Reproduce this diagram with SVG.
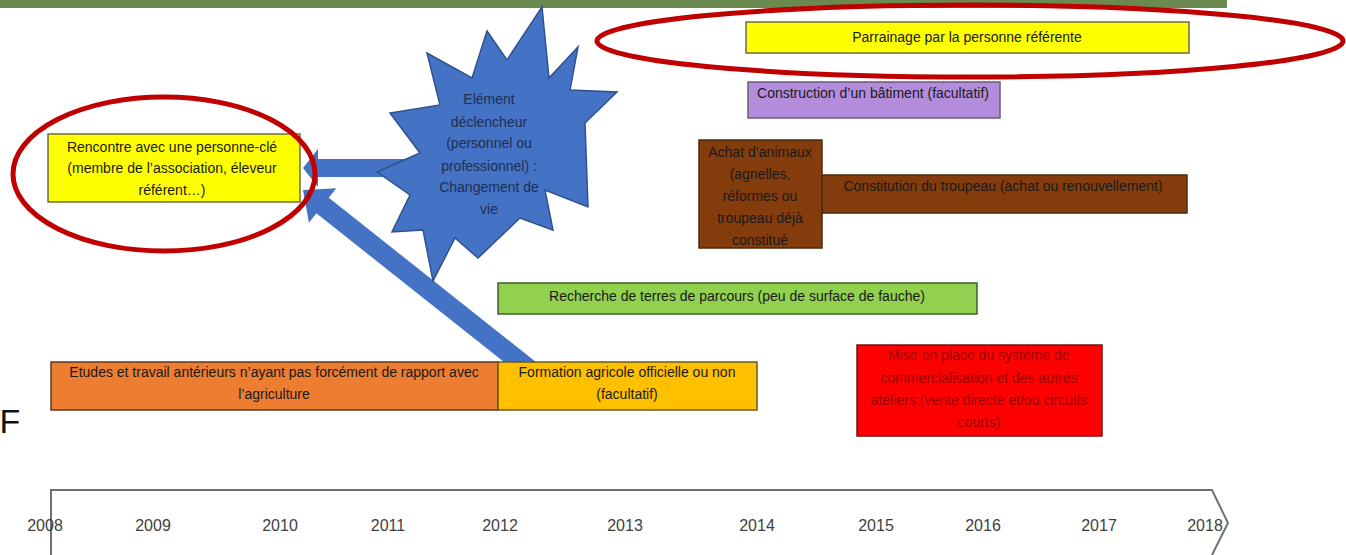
<svg xmlns="http://www.w3.org/2000/svg" width="1346" height="555" viewBox="0 0 1346 555">
<style>
text{font-family:"Liberation Sans",Arial,sans-serif;font-size:14px;fill:#1a1a1a;text-anchor:middle}
.box{stroke-width:1.5}
.yr{font-size:16px;fill:#404040}
.hl{fill:none;stroke:#c00000;stroke-width:5}
.blue{fill:#4472c4}
.st{fill:#1f3050}
.rt{fill:#9a0000}
</style>
<rect x="0" y="0" width="1227" height="8" fill="#6a8a4f"/>
<g id="connectors">
<polygon class="blue" points="303,168 318,149 318,159 425,159 425,177 318,177 318,187"/>
<polygon class="blue" points="303,190 336.3,188.3 328.8,197.7 536.2,362.2 523.8,377.8 316.4,213.3 308.9,222.7"/>
</g>
<g id="trigger">
<polygon fill="#4472c4" stroke="#2f528f" stroke-width="1.5" points="542,7 549,78 578,47 570,90 617,92 585,123 588,207 545,190 553,230 520,218 478,258 455,238 433,281 423,230 392,232 410,195 377,172 420,153 390,113 440,105 427,53 472,78 487,31 507,60"/>
<text class="st" x="489" y="104">Elément</text>
<text class="st" x="489" y="127">déclencheur</text>
<text class="st" x="489" y="148">(personnel ou</text>
<text class="st" x="489" y="171">professionnel) :</text>
<text class="st" x="489" y="192">Changement de</text>
<text class="st" x="489" y="214">vie</text>
</g>
<g id="rencontre">
<rect class="box" x="48" y="134" width="252" height="68" fill="#ffff00" stroke="#6e6e40"/>
<text x="172" y="152">Rencontre avec une personne-clé</text>
<text x="172" y="173">(membre de l’association, éleveur</text>
<text x="172" y="195">référent…)</text>
</g>
<g id="parrainage">
<rect class="box" x="746" y="22" width="443" height="31" fill="#ffff00" stroke="#6e6e40"/>
<text x="967" y="42">Parrainage par la personne référente</text>
</g>
<g id="construction">
<rect class="box" x="748" y="82" width="252" height="36" fill="#b48cdc" stroke="#6a5a7a"/>
<text x="873" y="98">Construction d’un bâtiment (facultatif)</text>
</g>
<g id="achat">
<rect class="box" x="699" y="140" width="123" height="108" fill="#843c0c" stroke="#4a2a10"/>
<text x="760" y="157">Achat d’animaux</text>
<text x="760" y="179">(agnelles,</text>
<text x="760" y="201">réformes ou</text>
<text x="760" y="223">troupeau déjà</text>
<text x="760" y="245">constitué</text>
</g>
<g id="constitution">
<rect class="box" x="822" y="175" width="365" height="38" fill="#843c0c" stroke="#4a2a10"/>
<text x="1003" y="191">Constitution du troupeau  (achat ou renouvellement)</text>
</g>
<g id="recherche">
<rect class="box" x="498" y="283" width="479" height="31" fill="#92d050" stroke="#3f5f2a"/>
<text x="737" y="301">Recherche de terres de parcours (peu de surface de fauche)</text>
</g>
<g id="etudes">
<rect class="box" x="51" y="362" width="447" height="48" fill="#ed7d31" stroke="#5a3a20"/>
<text x="274" y="377">Etudes et travail antérieurs n’ayant pas forcément de rapport  avec</text>
<text x="274" y="399">l’agriculture</text>
</g>
<g id="formation">
<rect class="box" x="498" y="362" width="259" height="48" fill="#ffc000" stroke="#6a5a20"/>
<text x="627" y="377">Formation  agricole officielle ou non</text>
<text x="627" y="399">(facultatif)</text>
</g>
<g id="commercialisation">
<rect class="box" x="857" y="345" width="245" height="91" fill="#ff0000" stroke="#7a1010"/>
<text class="rt" x="979" y="360">Mise en place du système de</text>
<text class="rt" x="979" y="383">commercialisation et des autres</text>
<text class="rt" x="979" y="405">ateliers (vente directe et/ou circuits</text>
<text class="rt" x="979" y="427">courts)</text>
</g>
<g id="highlights">
<ellipse class="hl" cx="164" cy="174" rx="151" ry="77"/>
<ellipse class="hl" cx="970" cy="41" rx="373" ry="36"/>
</g>
<text x="10" y="433" style="font-size:34px;fill:#111">F</text>
<g id="timeline">
<path d="M51,555 L51,490 L1212,490 L1228,523 L1212,555" fill="none" stroke="#707070" stroke-width="2"/>
<text class="yr" x="45" y="531">2008</text>
<text class="yr" x="153" y="531">2009</text>
<text class="yr" x="280" y="531">2010</text>
<text class="yr" x="388" y="531">2011</text>
<text class="yr" x="500" y="531">2012</text>
<text class="yr" x="625" y="531">2013</text>
<text class="yr" x="757" y="531">2014</text>
<text class="yr" x="876" y="531">2015</text>
<text class="yr" x="983" y="531">2016</text>
<text class="yr" x="1099" y="531">2017</text>
<text class="yr" x="1205" y="531">2018</text>
</g>
</svg>
